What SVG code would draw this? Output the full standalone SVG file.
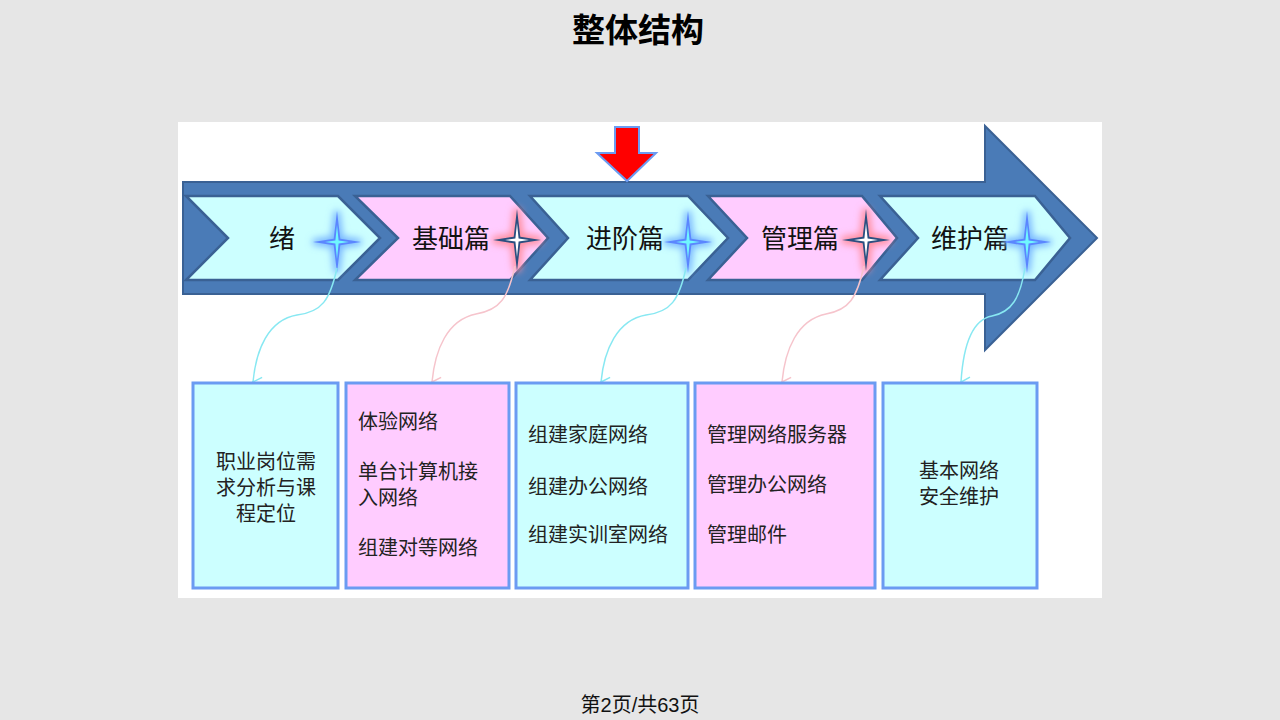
<svg xmlns="http://www.w3.org/2000/svg" width="1280" height="720" viewBox="0 0 1280 720">
<defs>
<style>
.ttl{font-family:"Liberation Sans","Noto Sans CJK SC",sans-serif;font-weight:bold;font-size:33px;fill:#000}
.ft{font-family:"Liberation Sans","Noto Sans CJK SC",sans-serif;font-size:20px;fill:#111}
.chev{stroke:#3a6194;stroke-width:2.5}
.cy{fill:#ccffff}
.pk{fill:#ffccff}
.lbl{font-family:"Noto Sans CJK SC",sans-serif;font-size:26px;fill:#111;text-anchor:middle}
.box{stroke:#6b9bf2;stroke-width:3}
.bt{font-family:"Liberation Sans","Noto Sans CJK SC",sans-serif;font-size:20px;fill:#222}
.conC{fill:none;stroke:#88e8f2;stroke-width:1.5}
.conP{fill:none;stroke:#f6c4cc;stroke-width:1.5}
</style>
<filter id="glow" x="-60%" y="-60%" width="220%" height="220%"><feGaussianBlur stdDeviation="3.5"/></filter>
<path id="star" d="M0,-31 L3.3,-3.3 L24,0 L3.3,3.3 L0,31 L-3.3,3.3 L-24,0 L-3.3,-3.3 Z"/>
<path id="istar" d="M0,-17 L1.6,-1.6 L12,0 L1.6,1.6 L0,17 L-1.6,1.6 L-12,0 L-1.6,-1.6 Z"/>
<g id="bstar">
<use href="#star" fill="#5aa0ff" stroke="#7ab8ff" stroke-width="6" filter="url(#glow)"/>
<use href="#star" fill="#5b86ff"/>
<use href="#istar" fill="#6ff6ff"/>
</g>
<g id="rstar">
<use href="#star" fill="#ff7088" stroke="#ff90a0" stroke-width="7" filter="url(#glow)"/>
<use href="#star" fill="#2b4f80"/>
<use href="#istar" fill="#ffffff"/>
</g>
<marker id="arC" viewBox="0 0 12 12" refX="6" refY="11" markerWidth="13" markerHeight="13" markerUnits="userSpaceOnUse" orient="auto"><path d="M1,3 L6,11 L11,3" fill="none" stroke="#88e8f2" stroke-width="1.4"/></marker>
<marker id="arP" viewBox="0 0 12 12" refX="6" refY="11" markerWidth="13" markerHeight="13" markerUnits="userSpaceOnUse" orient="auto"><path d="M1,3 L6,11 L11,3" fill="none" stroke="#f6c4cc" stroke-width="1.4"/></marker>
</defs>
<rect x="0" y="0" width="1280" height="720" fill="#e6e6e6"/>
<text class="ttl" x="638" y="42" text-anchor="middle">整体结构</text>
<rect x="178" y="122" width="924" height="476" fill="#ffffff"/>

<g id="main-arrow">
<path d="M183,182 L985,182 L985,126 L1097,238 L985,350 L985,294 L183,294 Z" fill="#4a7bb7" stroke="#3a6194" stroke-width="2"/>
</g>

<g id="down-arrow">
<path d="M615,127 L639,127 L639,153 L656,153 L627,181 L597,153 L615,153 Z" fill="#ff0000" stroke="#6b9bf2" stroke-width="2"/>
</g>

<g id="chev1">
<path class="chev cy" d="M186,196 L338,196 L380,238 L338,280 L186,280 L228,238 Z"/>
<text class="lbl" x="282" y="248">绪</text>
<use href="#bstar" x="337" y="242"/>
</g>
<g id="chev2">
<path class="chev pk" d="M355,196 L510,196 L548,238 L510,280 L355,280 L398,238 Z"/>
<text class="lbl" x="451" y="248">基础篇</text>
<use href="#rstar" x="517" y="240"/>
</g>
<g id="chev3">
<path class="chev cy" d="M530,196 L688,196 L728,238 L688,280 L530,280 L568,238 Z"/>
<text class="lbl" x="625" y="248">进阶篇</text>
<use href="#bstar" x="688" y="242"/>
</g>
<g id="chev4">
<path class="chev pk" d="M708,196 L862,196 L897,238 L862,280 L708,280 L747,238 Z"/>
<text class="lbl" x="800" y="248">管理篇</text>
<use href="#rstar" x="866" y="240"/>
</g>
<g id="chev5">
<path class="chev cy" d="M880,196 L1035,196 L1070,238 L1035,280 L880,280 L918,238 Z"/>
<text class="lbl" x="970" y="248">维护篇</text>
<use href="#bstar" x="1027" y="242"/>
</g>

<g id="connectors">
<path class="conC" marker-end="url(#arC)" d="M337,268 C330,300 322,312 297,315 C268,320 256,350 253,382"/>
<path class="conP" marker-end="url(#arP)" d="M515,266 C508,298 500,310 476,314 C447,320 435,350 432,382"/>
<path class="conC" marker-end="url(#arC)" d="M686,268 C679,300 671,312 646,315 C617,320 604,350 601,382"/>
<path class="conP" marker-end="url(#arP)" d="M864,266 C857,298 849,310 826,314 C797,320 785,350 782,382"/>
<path class="conC" marker-end="url(#arC)" d="M1025,268 C1020,298 1012,312 992,316 C970,320 963,350 961,382"/>
</g>

<g id="box1">
<rect class="box cy" x="193" y="383" width="145" height="205"/>
<text class="bt" text-anchor="middle"><tspan x="266" y="469">职业岗位需</tspan><tspan x="266" y="495">求分析与课</tspan><tspan x="266" y="521">程定位</tspan></text>
</g>
<g id="box2">
<rect class="box pk" x="346" y="383" width="163" height="205"/>
<text class="bt"><tspan x="358" y="429">体验网络</tspan><tspan x="358" y="479">单台计算机接</tspan><tspan x="358" y="505">入网络</tspan><tspan x="358" y="555">组建对等网络</tspan></text>
</g>
<g id="box3">
<rect class="box cy" x="516" y="383" width="172" height="205"/>
<text class="bt"><tspan x="528" y="442">组建家庭网络</tspan><tspan x="528" y="494">组建办公网络</tspan><tspan x="528" y="542">组建实训室网络</tspan></text>
</g>
<g id="box4">
<rect class="box pk" x="695" y="383" width="180" height="205"/>
<text class="bt"><tspan x="707" y="442">管理网络服务器</tspan><tspan x="707" y="492">管理办公网络</tspan><tspan x="707" y="542">管理邮件</tspan></text>
</g>
<g id="box5">
<rect class="box cy" x="883" y="383" width="154" height="205"/>
<text class="bt" text-anchor="middle"><tspan x="959" y="478">基本网络</tspan><tspan x="959" y="504">安全维护</tspan></text>
</g>

<text class="ft" x="640" y="712" text-anchor="middle">第2页/共63页</text>
</svg>
